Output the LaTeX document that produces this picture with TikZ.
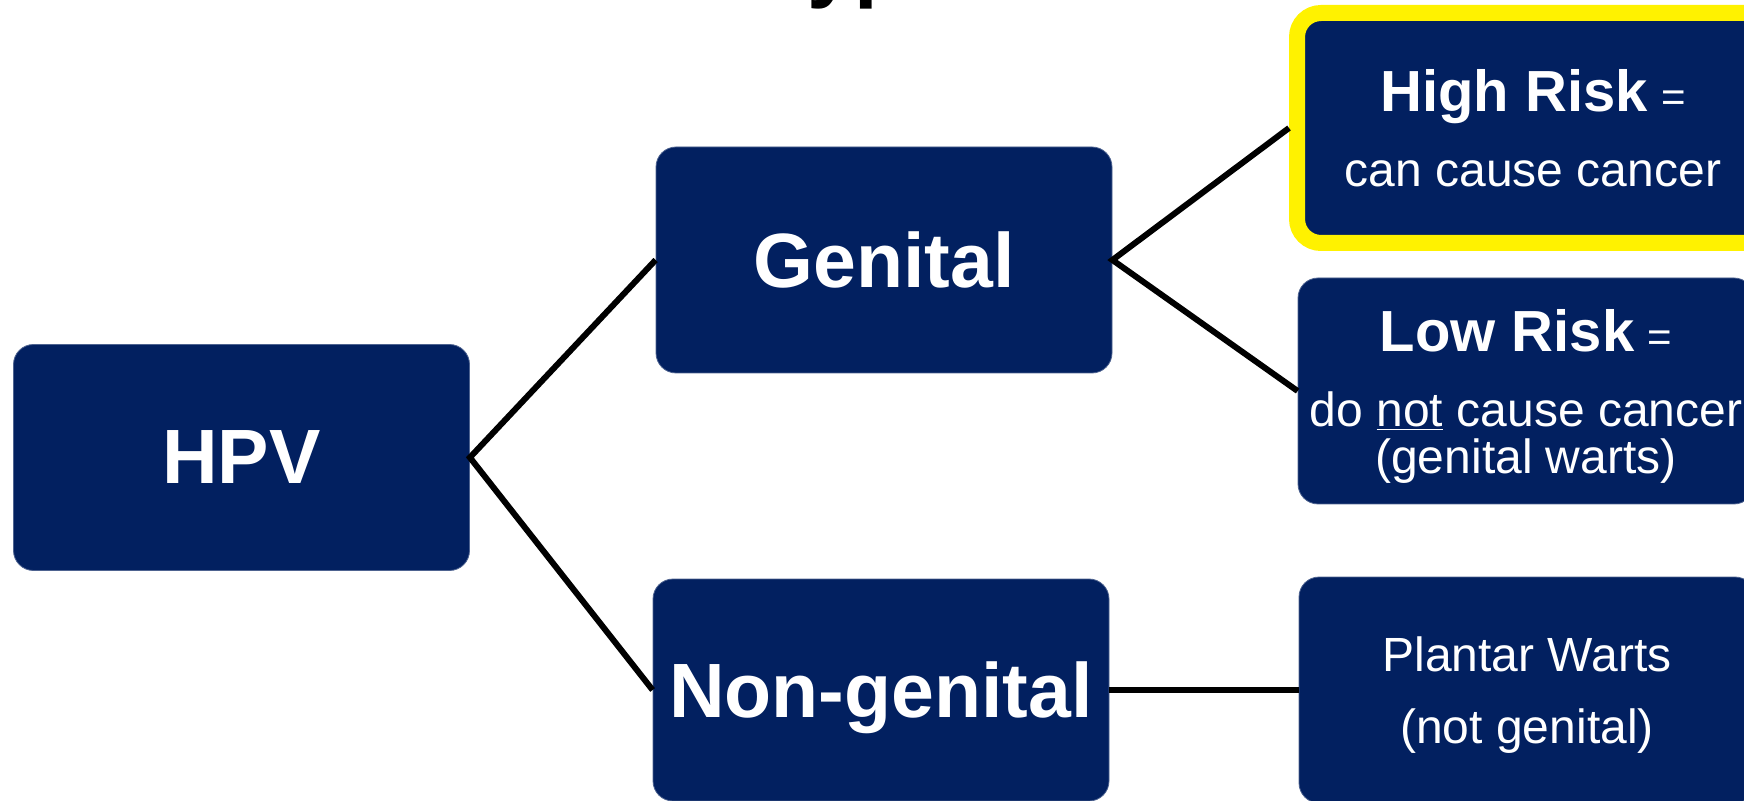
\documentclass[tikz,border=0pt]{standalone}
\usepackage{fontspec}
\setmainfont{Liberation Sans}
\definecolor{hpvblue}{RGB}{2,32,96}
\tikzset{
  box/.style={rectangle,rounded corners=10pt,fill=hpvblue,draw=hpvblue!70!white,line width=0.4pt,
    text=white,minimum width=228pt,minimum height=113pt,align=center,inner sep=0pt,text depth=0pt},
  big/.style={font=\fontsize{38.5}{46}\selectfont\bfseries},
  small/.style={font=\fontsize{24}{23.5}\selectfont},
  link/.style={line width=3pt,black,line join=miter},
}
\newcommand{\riskhead}[1]{{\fontsize{29}{34}\selectfont\bfseries #1}~{\fontsize{21}{22}\selectfont =}}
\begin{document}
\begin{tikzpicture}[x=0.5pt,y=-0.5pt]
\useasboundingbox (0,0) rectangle (1744,801);

\node (title) at (755,-8) [anchor=base west,font=\fontsize{42.5}{50}\selectfont\bfseries]{Types};

\node (hpv) at (241.5,457.5) [box,big]{HPV};
\node (gen) at (884,260) [box,big]{Genital};
\node (non) at (881,690) [box,big,minimum height=111pt]{Non-genital};

\node (high) at (1533,128) [box,small,draw=yellow,line width=8pt,rounded corners=12pt,
  minimum width=236pt,minimum height=115pt]{\riskhead{High Risk}\\[14pt]can cause cancer};
\node (low) at (1526,391) [box,small]{\riskhead{Low Risk}\\[14pt]do \underline{not} cause cancer\\(genital warts)};
\node (plant) at (1527,690) [box,small]{Plantar Warts\\[12.5pt](not genital)};

\draw[link] (gen.west) -- (hpv.east) -- (non.west);
\draw[link] (high.west) -- (gen.east) -- (low.west);
\draw[link] (non.east) -- (plant.west);

\end{tikzpicture}
\end{document}
